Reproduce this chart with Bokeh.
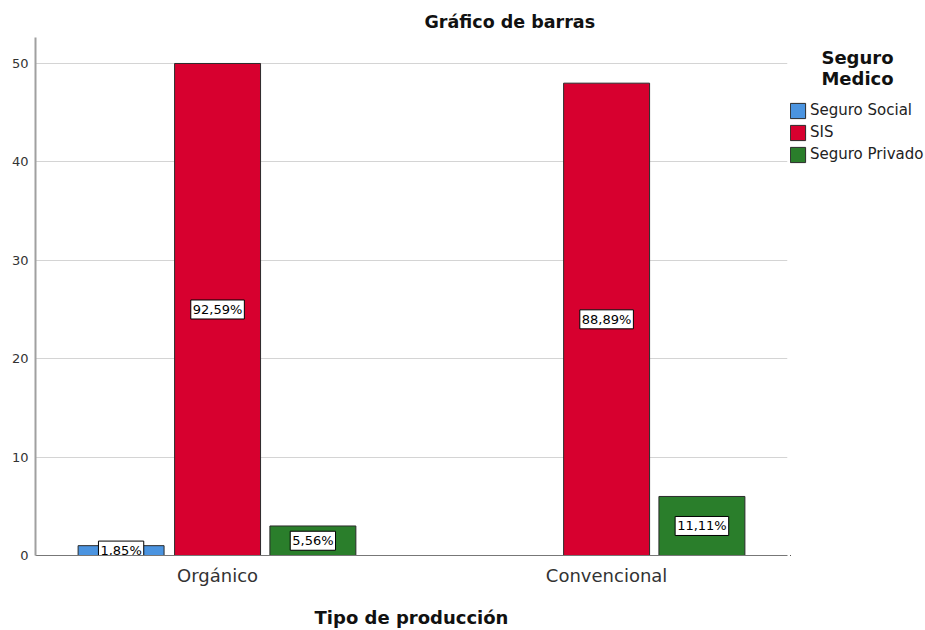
from bokeh.plotting import figure
from bokeh.layouts import row
from bokeh.models import ColumnDataSource, Legend, LegendItem, Label, FixedTicker, Range1d
from bokeh.core.properties import value
from bokeh.embed import file_html
from bokeh.resources import INLINE

# ---- data ----
categories = ["Orgánico", "Convencional"]
series = ["Seguro Social", "SIS", "Seguro Privado"]
seguro_social = [1, 0]
sis = [50, 48]
seguro_privado = [3, 6]
y_ticks = [0, 10, 20, 30, 40, 50]
title_text = "Gráfico de barras"
x_title = "Tipo de producción"
legend_title = ["Seguro", "Medico"]

# ---- styles ----
colors = ["#4b94e0", "#d7002f", "#2a7e2b"]
offsets = [-0.248, 0.0, 0.245]
bar_w = 0.221
FONT = "DejaVu Sans"

values = [seguro_social, sis, seguro_privado]
totals = [sum(v[i] for v in values) for i in range(len(categories))]

p = figure(width=790, height=630, output_backend="svg", toolbar_location=None,
           x_range=(-0.468, 1.465), y_range=(0, 52.64),
           min_border_left=35, min_border_right=3, min_border_top=37,
           min_border_bottom=75)
p.background_fill_color = "white"
p.border_fill_color = "white"
p.outline_line_color = None

p.title.text = title_text
p.title.align = "left"
p.title.offset = 389
p.title.text_font = FONT
p.title.text_font_size = "17.5px"
p.title.text_font_style = "bold"
p.title.text_color = "#111111"
p.title.standoff = 11

sources = []
for s, vals, col, off in zip(series, values, colors, offsets):
    idx = [i for i, v in enumerate(vals) if v > 0]
    ys = [vals[i] for i in idx]
    src = ColumnDataSource(dict(
        x=[i + off for i in idx],
        top=ys,
        mid=[y / 2 for y in ys],
        pct=[("%.2f%%" % (100.0 * vals[i] / totals[i])).replace(".", ",") for i in idx],
    ))
    p.vbar(x="x", top="top", bottom=0, width=bar_w, source=src,
           fill_color=col, line_color="#2b2b2b", line_width=1)
    sources.append(src)

for src in sources:
    p.text(x="x", y="mid", text="pct", source=src,
           text_font=value(FONT), text_font_size=value("13px"),
           text_align="center", text_baseline="middle", text_color="black",
           background_fill_color="white", border_line_color="black",
           border_line_width=1, padding=2)

# axes
p.xaxis.ticker = FixedTicker(ticks=list(range(len(categories))))
p.xaxis.major_label_overrides = {i: c for i, c in enumerate(categories)}
p.xaxis.major_label_text_font = FONT
p.xaxis.major_label_text_font_size = "18px"
p.xaxis.major_label_text_color = "#333333"
p.xaxis.major_label_standoff = 9
p.xaxis.axis_label = x_title
p.xaxis.axis_label_text_font = FONT
p.xaxis.axis_label_text_font_size = "18px"
p.xaxis.axis_label_text_font_style = "bold"
p.xaxis.axis_label_text_color = "#111111"
p.xaxis.axis_label_standoff = 18
p.xaxis.axis_line_color = "#777777"
p.xaxis.axis_line_width = 1
p.xaxis.major_tick_line_color = None
p.xaxis.minor_tick_line_color = None
p.xaxis.major_tick_out = 0
p.xaxis.major_tick_in = 0
p.xaxis.minor_tick_out = 0
p.xaxis.minor_tick_in = 0

p.yaxis.ticker = FixedTicker(ticks=y_ticks)
p.yaxis.major_label_text_font = FONT
p.yaxis.major_label_text_font_size = "13px"
p.yaxis.major_label_text_color = "#333333"
p.yaxis.major_label_standoff = 7
p.yaxis.axis_line_color = "#a0a0a0"
p.yaxis.axis_line_width = 2
p.yaxis.major_tick_line_color = None
p.yaxis.minor_tick_line_color = None
p.yaxis.major_tick_out = 0
p.yaxis.major_tick_in = 0
p.yaxis.minor_tick_out = 0
p.yaxis.minor_tick_in = 0

p.xgrid.visible = False
p.ygrid.grid_line_color = "#d4d4d4"
p.ygrid.grid_line_width = 1

# ---- legend panel (its own small figure; ranges keep proxy bars out of view) ----
q = figure(width=135, height=630, output_backend="svg", toolbar_location=None,
           x_axis_type=None, y_axis_type=None, min_border=0,
           x_range=Range1d(100, 101), y_range=Range1d(100, 101))
q.outline_line_color = None
q.background_fill_color = "white"
q.border_fill_color = "white"
q.xgrid.visible = False
q.ygrid.visible = False
items = []
for s, col, src in zip(series, colors, sources):
    r = q.vbar(x="x", top="top", bottom=0, width=bar_w, source=src,
               fill_color=col, line_color="#2b2b2b", line_width=1)
    items.append(LegendItem(label=s, renderers=[r]))

legend = Legend(items=items, location=(-2, 390), orientation="vertical",
                padding=0, margin=0, spacing=0,
                glyph_width=19, glyph_height=19, label_height=22,
                label_standoff=3, label_text_font=FONT,
                label_text_font_size="15px", label_text_color="#222222",
                border_line_color=None, background_fill_alpha=0)
q.add_layout(legend)

for t, yy in zip(legend_title, [498, 477]):
    q.add_layout(Label(x=67, y=yy, x_units="screen", y_units="screen", text=t,
                       text_font=FONT, text_font_size="18px", text_font_style="bold",
                       text_align="center", text_baseline="middle",
                       text_color="#111111"))

open("out.html", "w").write(file_html(row(p, q), INLINE))
